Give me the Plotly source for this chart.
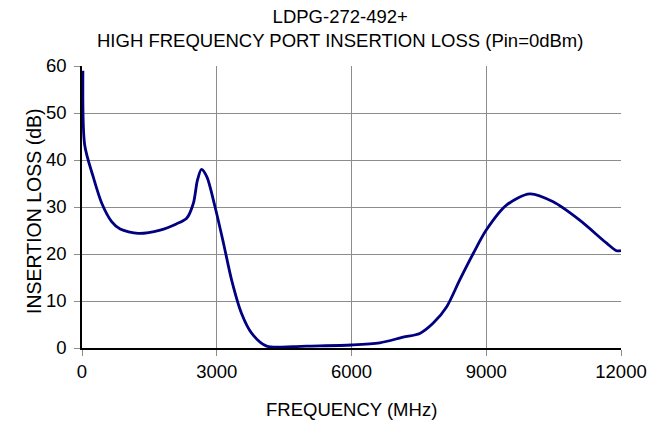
import plotly.graph_objects as go

freq_mhz = [20, 60, 250, 440, 660, 850, 1250, 1740, 2100, 2330, 2480, 2570, 2660,
            2780, 2960, 3150, 3330, 3550, 3780, 4110, 4700, 5000, 6000, 6630, 7150,
            7520, 7820, 8120, 8410, 8710, 9000, 9450, 9970, 10490, 11080, 11680,
            11900, 12000]
insertion_loss_db = [59.0, 43.2, 36.4, 30.8, 26.9, 25.3, 24.4, 25.1, 26.4, 27.6, 30.8,
                     35.7, 38.0, 36.4, 30.1, 22.3, 14.5, 7.4, 3.1, 0.4, 0.3, 0.4, 0.64,
                     1.1, 2.3, 3.1, 5.3, 8.8, 14.5, 20.1, 25.1, 30.4, 32.8, 31.1, 27.2,
                     22.3, 20.7, 20.7]
x_ticks = [0, 3000, 6000, 9000, 12000]
y_ticks = [0, 10, 20, 30, 40, 50, 60]

title_lines = ["LDPG-272-492+", "HIGH FREQUENCY PORT INSERTION LOSS (Pin=0dBm)"]
x_title = "FREQUENCY (MHz)"
y_title = "INSERTION LOSS (dB)"

FONT = "Liberation Sans, Arial, sans-serif"
W, H = 665, 423
L, R, T, B = 82, 44, 66, 75
PW, PH = W - L - R, H - T - B


def px_to_paper(px, py):
    return (px - L) / PW, (H - B - py) / PH


fig = go.Figure()
fig.add_trace(go.Scatter(
    x=freq_mhz, y=insertion_loss_db, mode="lines",
    line=dict(color="#000080", width=2.8, shape="spline", smoothing=0.8),
    showlegend=False, hoverinfo="x+y",
))

tx, ty = px_to_paper(340, 28.5)
xx, xy = px_to_paper(351, 409)
yx, yy = px_to_paper(34, 211)

fig.update_layout(
    width=W, height=H,
    margin=dict(l=L, r=R, t=T, b=B, autoexpand=False),
    paper_bgcolor="white", plot_bgcolor="white",
    font=dict(family=FONT, size=18, color="black"),
    annotations=[
        dict(text="<br>".join(title_lines), x=tx, y=ty, xref="paper", yref="paper",
             xanchor="center", yanchor="middle", showarrow=False,
             font=dict(family=FONT, size=18.5, color="black")),
        dict(text=x_title, x=xx, y=xy, xref="paper", yref="paper",
             xanchor="center", yanchor="middle", showarrow=False,
             font=dict(family=FONT, size=18.5, color="black")),
        dict(text=y_title, x=yx, y=yy, xref="paper", yref="paper", textangle=-90,
             xanchor="center", yanchor="middle", showarrow=False,
             font=dict(family=FONT, size=19.5, color="black")),
    ],
    xaxis=dict(
        range=[0, 12000], tickvals=x_ticks, ticktext=[str(v) for v in x_ticks],
        showgrid=True, gridcolor="#8c8c8c", gridwidth=1,
        showline=True, linecolor="black", linewidth=1.5,
        ticks="outside", ticklen=6, tickcolor="#8c8c8c",
        tickfont=dict(family=FONT, size=18.5, color="black"),
        automargin=False, zeroline=False,
    ),
    yaxis=dict(
        range=[0, 60], tickvals=y_ticks,
        showgrid=True, gridcolor="#8c8c8c", gridwidth=1,
        showline=True, linecolor="black", linewidth=1.5,
        ticks="outside", ticklen=6, tickcolor="#8c8c8c",
        ticklabelstandoff=4,
        tickfont=dict(family=FONT, size=18.5, color="black"),
        automargin=False, zeroline=False,
    ),
)

fig.write_html("out.html", config={"displayModeBar": False},
               post_script="document.body.style.margin='0';")
